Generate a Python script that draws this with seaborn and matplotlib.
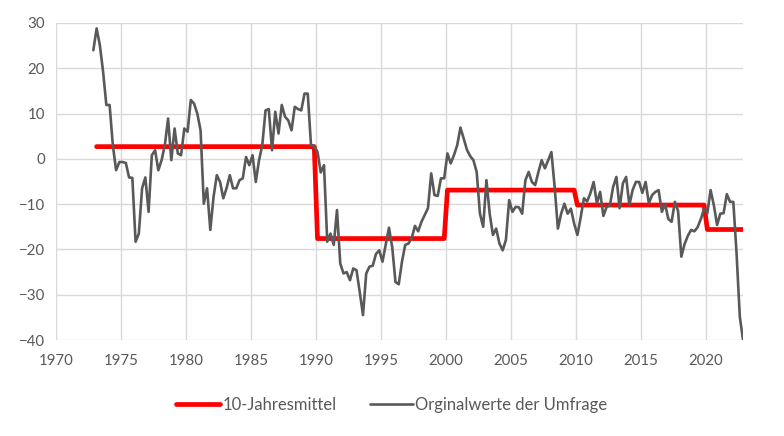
import numpy as np
import pandas as pd
import matplotlib
matplotlib.use("Agg")
import matplotlib.pyplot as plt
import seaborn as sns

# Quarterly survey values (Q4 1972 .. Q4 2022), quarter mid-points
first_quarter_mid = 1972.875
survey = [
    24.0, 28.8, 25.1, 19.2, 11.9, 11.9, 3.0, -2.5, -0.7, -0.7,
    -0.9, -4.1, -4.2, -18.3, -16.5, -6.5, -4.1, -11.7, 0.8, 1.9,
    -2.5, -0.3, 3.0, 8.9, -0.3, 6.7, 1.2, 0.8, 6.7, 6.0,
    13.0, 12.2, 10.0, 6.3, -9.9, -6.5, -15.7, -8.4, -3.6, -5.1,
    -8.7, -6.5, -3.6, -6.5, -6.5, -4.7, -4.3, 0.4, -1.4, 0.8,
    -5.1, -0.3, 3.0, 10.7, 11.0, 1.9, 10.4, 5.6, 11.9, 9.3,
    8.5, 6.3, 11.5, 11.0, 10.7, 14.4, 14.4, 3.0, 2.9, 1.5,
    -3.0, -1.4, -18.3, -16.5, -19.0, -11.3, -23.1, -25.3, -25.0, -26.8,
    -24.2, -24.6, -29.4, -34.5, -25.3, -23.8, -23.6, -21.0, -20.2, -22.7,
    -19.0, -15.2, -19.5, -27.2, -27.7, -22.7, -19.0, -18.7, -17.5, -14.8,
    -16.0, -13.9, -12.4, -10.9, -3.2, -8.0, -8.2, -4.3, -4.3, 1.2,
    -1.0, 0.8, 3.0, 6.9, 4.5, 2.0, 0.6, -0.3, -2.9, -12.1,
    -15.0, -4.7, -12.1, -16.8, -15.4, -18.7, -20.2, -17.9, -9.1, -11.7,
    -10.6, -10.7, -12.1, -4.7, -2.9, -5.1, -5.8, -2.9, -0.3, -2.1,
    -0.3, 1.5, -6.2, -15.4, -12.1, -9.9, -12.1, -11.0, -14.3, -16.8,
    -13.0, -8.7, -9.4, -7.6, -5.1, -9.8, -7.3, -12.6, -10.6, -10.3,
    -6.2, -4.0, -10.9, -5.4, -4.0, -10.2, -6.9, -5.1, -5.1, -7.5,
    -5.1, -9.8, -8.0, -7.3, -6.9, -11.7, -10.0, -13.3, -13.9, -9.5,
    -11.5, -21.6, -18.8, -17.0, -15.7, -16.0, -15.1, -13.3, -11.0, -12.0,
    -6.9, -10.2, -14.6, -12.1, -12.0, -7.8, -9.5, -9.5, -20.9, -34.9, -40.0,
]

# 10-year means (period start year, mean value)
period_start = [1973, 1990, 2000, 2010, 2020]
period_mean = [2.7, -17.6, -6.9, -10.2, -15.6]

x_ticks = [1970, 1975, 1980, 1985, 1990, 1995, 2000, 2005, 2010, 2015, 2020]
y_ticks = [-40, -30, -20, -10, 0, 10, 20, 30]

label_mean = "10-Jahresmittel"
label_survey = "Orginalwerte der Umfrage"

t = first_quarter_mid + 0.25 * np.arange(len(survey))
df_survey = pd.DataFrame({"t": t, "v": survey})
t_mean = t[t >= period_start[0]]
idx = np.searchsorted(period_start, t_mean, side="right") - 1
df_mean = pd.DataFrame({"t": t_mean, "v": np.array(period_mean)[idx]})

sns.set_theme(style="white")
plt.rcParams["font.family"] = ["Lato", "DejaVu Sans"]

fig = plt.figure(figsize=(7.84, 4.36), dpi=100)
ax = fig.add_axes([56 / 784, 1 - 340 / 436, (743 - 56) / 784, (340 - 23) / 436])

sns.lineplot(data=df_mean, x="t", y="v", ax=ax, color="#FF0000", linewidth=3.4,
             label=label_mean, solid_capstyle="round", zorder=3)
sns.lineplot(data=df_survey, x="t", y="v", ax=ax, color="#595959", linewidth=1.9,
             label=label_survey, zorder=4)

ax.set_xlim(1970, 2022.87)
ax.set_ylim(-40, 30)
ax.set_xticks(x_ticks)
ax.set_yticks(y_ticks)
ax.set_xlabel("")
ax.set_ylabel("")
ax.grid(True, color="#d9d9d9", linewidth=1.0)
ax.set_axisbelow(True)
for s in ax.spines.values():
    s.set_visible(False)
ax.tick_params(axis="both", length=0, labelsize=10.8, colors="#595959")
ax.tick_params(axis="x", pad=10)
ax.tick_params(axis="y", pad=8)

leg = ax.legend(loc="center", bbox_to_anchor=(0.5, 1 - 405 / 436),
                bbox_transform=fig.transFigure, ncol=2, frameon=False,
                fontsize=12, handlelength=2.6, handletextpad=0.15,
                columnspacing=2.0)
for txt in leg.get_texts():
    txt.set_color("#595959")

fig.savefig("out.png", dpi=100)
